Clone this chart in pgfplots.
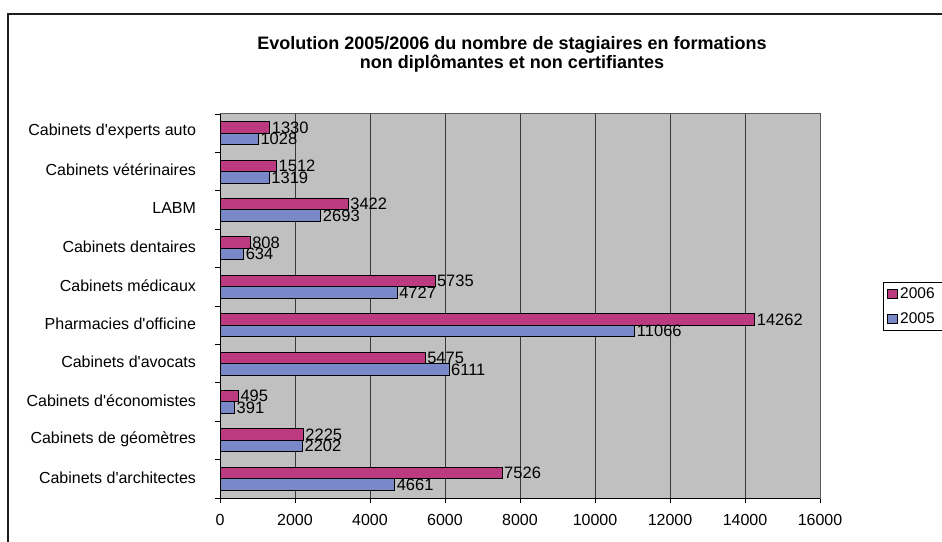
\documentclass[border=0pt]{standalone}
\usepackage{fontspec}
\setmainfont{Liberation Sans}
\usepackage{pgfplots}
\pgfplotsset{compat=1.18}
\definecolor{c06}{RGB}{187,58,128}
\definecolor{c05}{RGB}{120,136,200}
\definecolor{bg}{RGB}{192,192,192}
\definecolor{gridc}{RGB}{55,55,55}
\definecolor{framec}{RGB}{30,30,30}
\newcommand{\q}{\textquotesingle}
\begin{document}
\begin{tikzpicture}[x=1pt,y=1pt]
\path[use as bounding box, clip] (0,0) rectangle (942,541);
\draw[line width=2pt, framec] (8,-20) -- (8,527) -- (980,527);
\node[font=\bfseries\fontsize{18}{19}\selectfont, align=center] at (512,487) {Evolution 2005/2006 du nombre de stagiaires en formations\\non diplômantes et non certifiantes};
\begin{axis}[
  at={(220pt,43pt)}, anchor=south west, width=600pt, height=384pt, scale only axis,
  xbar=0pt, bar width=11.5pt,
  xmin=0, xmax=16000, xtick={0,2000,...,16000},
  scaled x ticks=false,
  ymin=-0.5, ymax=9.5,
  ytick={-0.5,0.5,...,9.5}, yticklabel=\empty,
  extra y ticks={0,1,2,3,4,5,6,7,8,9},
  extra y tick labels={Cabinets d\q architectes,Cabinets de géomètres,Cabinets d\q économistes,Cabinets d\q avocats,Pharmacies d\q officine,Cabinets médicaux,Cabinets dentaires,LABM,Cabinets vétérinaires,Cabinets d\q experts auto},
  extra y tick style={major tick length=0pt, yticklabel style={xshift=-20.5pt, yshift=1.5pt}},
  tick align=outside, major tick length=5pt,
  xtick pos=bottom, ytick pos=left,
  tick style={black, line width=0.8pt},
  xmajorgrids, major grid style={gridc, line width=1pt},
  axis background/.style={fill=bg},
  axis line style={draw=gray!70!black, line width=1pt},
  ticklabel style={font=\fontsize{16}{18}\selectfont},
  xticklabel style={yshift=-8pt},
  /pgf/number format/assume math mode=true,
  /pgf/number format/1000 sep={},
  point meta=x,
  nodes near coords,
  nodes near coords align={horizontal},
  every node near coord/.append style={font=\fontsize{16.5}{18}\selectfont, inner xsep=1.5pt, black},
  legend style={at={(axis description cs:1.105,0.5625)}, anchor=north west, draw=black, line width=0.8pt, font=\fontsize{15.5}{17}\selectfont, row sep=9pt, inner xsep=4pt, inner ysep=3pt, cells={anchor=west}},
  legend image code/.code={\draw[#1, line width=0.8pt] (0pt,-4.5pt) rectangle (10pt,4.5pt);},
  reverse legend,
]
\addplot[fill=c05, draw=black, line width=1pt] coordinates {(4661,0) (2202,1) (391,2) (6111,3) (11066,4) (4727,5) (634,6) (2693,7) (1319,8) (1028,9)};
\addlegendentry{\makebox[45pt][l]{2005}}
\addplot[fill=c06, draw=black, line width=1pt] coordinates {(7526,0) (2225,1) (495,2) (5475,3) (14262,4) (5735,5) (808,6) (3422,7) (1512,8) (1330,9)};
\addlegendentry{\makebox[45pt][l]{2006}}
\draw[black, line width=1pt] (rel axis cs:0,0) -- (rel axis cs:0,1);
\draw[black, line width=1pt] (rel axis cs:0,0) -- (rel axis cs:1,0);
\end{axis}
\end{tikzpicture}
\end{document}
